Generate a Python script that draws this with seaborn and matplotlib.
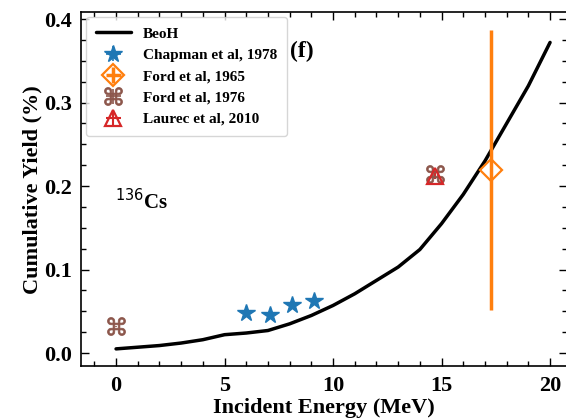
import numpy as np
import pandas as pd
import matplotlib
matplotlib.use("Agg")
import matplotlib.pyplot as plt
import seaborn as sns
from matplotlib.ticker import MultipleLocator

# ---- data ----
beoh_energy = [0, 1, 2, 3, 4, 5, 6, 7, 8, 9, 10, 11, 12, 13, 14, 15, 16, 17, 18, 19, 20]
beoh_yield = [0.005, 0.007, 0.009, 0.012, 0.016, 0.022, 0.024, 0.027, 0.035, 0.045,
              0.057, 0.071, 0.087, 0.103, 0.124, 0.155, 0.190, 0.230, 0.275, 0.320, 0.372]

chapman_energy = [6.0, 7.1, 8.1, 9.1]
chapman_yield = [0.048, 0.045, 0.057, 0.062]
chapman_err = [0.002, 0.002, 0.002, 0.002]

ford65_energy = [17.3]
ford65_yield = [0.219]
ford65_err = [0.168]

ford76_energy = [0.0, 14.7]
ford76_yield = [0.032, 0.215]
ford76_err = [0.001, 0.003]

laurec_energy = [14.7]
laurec_yield = [0.212]
laurec_err = [0.004]

x_ticks = [0, 5, 10, 15, 20]
y_ticks = [0.0, 0.1, 0.2, 0.3, 0.4]

# ---- style ----
sns.set_style("white")
plt.rcParams['font.family'] = ['Liberation Serif', 'DejaVu Sans']
for k in ['text.color', 'axes.labelcolor', 'xtick.color', 'ytick.color', 'axes.edgecolor']:
    plt.rcParams[k] = 'black'

fig = plt.figure(figsize=(5.66, 4.18), dpi=100)
ax = fig.add_axes([0.1437, 0.1234, 0.8588, 0.847])

df = pd.DataFrame({"E": beoh_energy, "Y": beoh_yield})
sns.lineplot(data=df, x="E", y="Y", ax=ax, color="black", lw=2.5, label="BeoH")

ax.errorbar(chapman_energy, chapman_yield, xerr=0, yerr=chapman_err, marker='*',
            linestyle='none', color='#1f77b4', ms=13, elinewidth=1.2,
            label="Chapman et al, 1978")
ax.errorbar(ford65_energy, ford65_yield, xerr=0, yerr=ford65_err, marker='D',
            linestyle='none', color='#ff7f0e', mfc='none', ms=11, mew=1.6,
            elinewidth=2.5, label="Ford et al, 1965")
ax.errorbar(ford76_energy, ford76_yield, xerr=0, yerr=ford76_err, marker='$\u2318$',
            linestyle='none', color='#8c564b', ms=13, mew=0.5, elinewidth=1.2,
            label="Ford et al, 1976")
ax.errorbar(laurec_energy, laurec_yield, xerr=0, yerr=laurec_err, marker='^',
            linestyle='none', color='#d62728', mfc='none', ms=11, mew=1.6,
            elinewidth=1.5, label="Laurec et al, 2010")

ax.set_xlim(-1.6, 20.8)
ax.set_ylim(-0.016, 0.408)
ax.set_xticks(x_ticks)
ax.set_yticks(y_ticks)
ax.xaxis.set_minor_locator(MultipleLocator(1))
ax.yaxis.set_minor_locator(MultipleLocator(0.025))
ax.xaxis.set_major_formatter(matplotlib.ticker.FormatStrFormatter('%d'))
ax.yaxis.set_major_formatter(matplotlib.ticker.FormatStrFormatter('%.1f'))
ax.tick_params(which='both', direction='in', top=True, right=True, left=True, bottom=True,
               width=1, color='black')
ax.tick_params(which='major', length=6, labelsize=16, pad=7)
ax.tick_params(which='minor', length=3.5)
for lab in ax.get_xticklabels() + ax.get_yticklabels():
    lab.set_fontweight('bold')
for s in ax.spines.values():
    s.set_linewidth(1.2)
    s.set_color('black')

ax.set_xlabel("Incident Energy (MeV)", fontsize=16, fontweight='bold', labelpad=1)
ax.set_ylabel("Cumulative Yield (%)", fontsize=16, fontweight='bold', labelpad=1)

ax.text(0.43, 0.875, "(f)", transform=ax.transAxes, fontsize=17, fontweight='bold')
ax.text(0.07, 0.445, r"$^{136}$Cs", transform=ax.transAxes, fontsize=15, fontweight='bold')

leg = ax.legend(loc='upper left', prop={'size': 11, 'weight': 'bold'}, frameon=True,
                handlelength=2.3, labelspacing=0.5, borderaxespad=0.3, borderpad=0.65)
leg.get_frame().set_edgecolor('#cccccc')

fig.savefig("out.png", dpi=100)
